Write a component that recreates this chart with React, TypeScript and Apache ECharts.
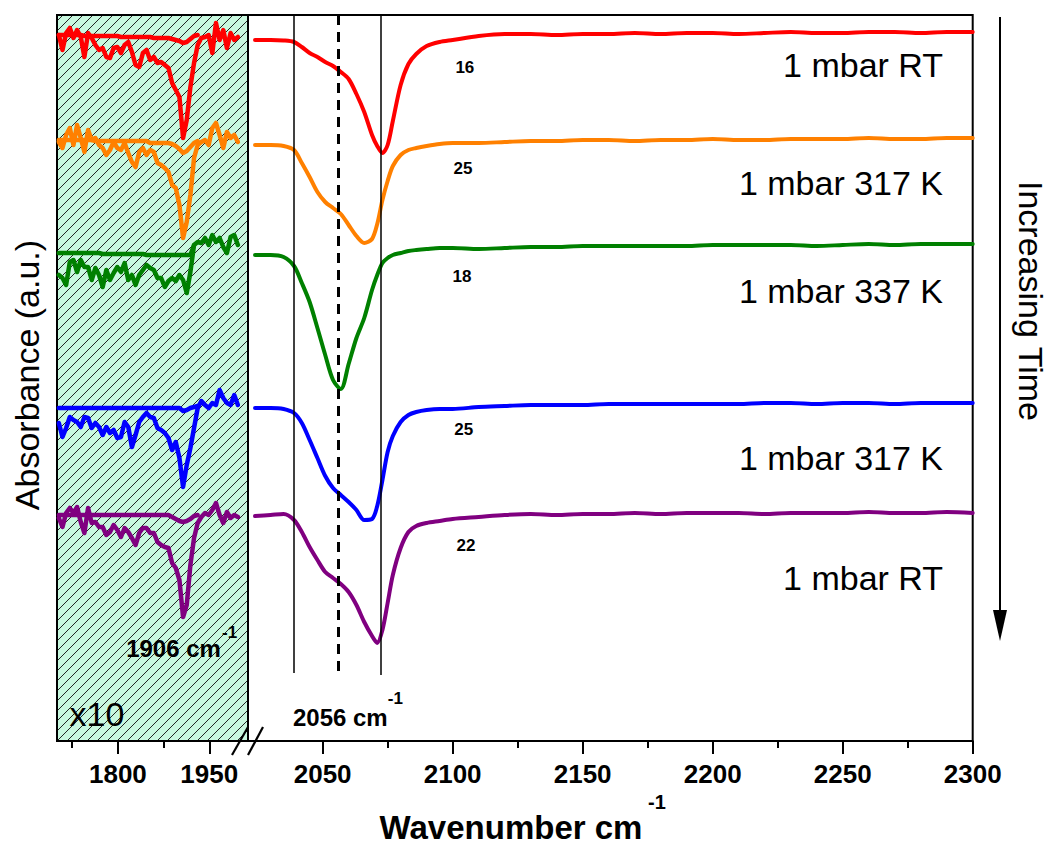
import React, { useEffect, useRef } from 'react';
import * as echarts from 'echarts';

const FONT = '"Liberation Sans", Arial, sans-serif';

// ---- Left (x10) panel: wavenumbers and absorbance (a.u.) ----
const LEFT_WN = [1703,1709,1715,1721,1727,1733,1739,1745,1751,1757,1763,1769,1775,1781,1787,1793,1799,1805,1811,1817,1823,1829,1835,1841,1847,1853,1859,1865,1871,1877,1883,1889,1895,1901,1907,1913,1919,1925,1931,1937,1943,1949,1955,1961,1967,1973,1979,1985,1991,1997];

const RED_X10 = [70.6,69.1,70.8,71.3,70.3,71.1,70.4,68.4,70.8,70.3,69.6,69.1,69.3,68.4,68.3,69.3,69.4,68.8,69.6,69.9,68.9,67.6,67.4,68.8,69.1,68.1,68.4,67.8,67.9,67.6,67.3,65.8,65.1,64.4,60.3,62.1,65.4,67.8,69.6,70.3,70.4,70.6,68.8,71.8,70.1,71.1,69.3,70.8,70.1,70.4];
const RED_REF = [70.6,70.6,70.6,70.6,70.6,70.6,70.6,70.5,70.5,70.5,70.5,70.5,70.5,70.5,70.5,70.5,70.5,70.4,70.4,70.4,70.4,70.4,70.4,70.4,70.4,70.4,70.3,70.3,70.3,70.3,70.3,70.2,70.1,70.0,69.8,69.9,70.2,70.5,70.6,null,null,null,null,null,null,null,null,null,null,null];

const ORANGE_X10 = [59.9,59.3,60.6,61.3,59.6,61.6,60.3,58.9,61.1,60.1,60.3,59.6,59.3,58.6,59.1,59.9,59.3,59.1,59.8,58.8,57.9,57.4,58.9,59.3,58.6,59.1,58.9,57.8,57.6,57.3,56.9,55.6,55.3,53.6,50.3,51.9,54.6,58.3,59.6,59.9,60.1,59.6,61.3,61.8,60.6,59.3,60.9,60.3,60.6,59.9];
const ORANGE_REF = [60.1,60.1,60.1,60.1,60.1,60.1,60.1,60.1,60.1,60.1,60.0,60.0,60.0,60.0,60.0,60.0,60.0,60.0,60.0,60.0,60.0,60.0,60.0,60.0,60.0,59.8,59.8,59.8,59.8,59.8,59.8,59.7,59.5,59.2,58.8,59.0,59.4,59.8,60.0,null,null,null,null,null,null,null,null,null,null,null];

const GREEN_X10 = [46.6,46.3,45.6,47.9,48.1,46.9,48.1,47.4,47.4,46.1,47.3,46.6,45.4,47.1,46.1,46.8,47.4,46.9,47.8,46.1,46.6,45.6,46.6,47.1,47.6,47.3,47.1,46.3,46.3,45.4,46.0,46.3,46.0,46.6,46.1,44.8,46.9,49.6,49.9,49.8,50.3,49.6,50.6,49.9,50.3,49.4,48.8,50.4,50.6,49.6];
const GREEN_REF = [48.8,48.8,48.8,48.8,48.8,48.8,48.8,48.8,48.8,48.8,48.8,48.8,48.7,48.7,48.7,48.7,48.7,48.7,48.7,48.7,48.7,48.7,48.7,48.7,48.6,48.6,48.6,48.6,48.6,48.6,48.6,48.6,48.6,48.6,48.6,48.6,48.6,49.6,null,null,null,null,null,null,null,null,null,null,null,null];

const BLUE_X10 = [31.8,30.4,31.3,32.4,32.1,31.9,31.4,32.4,32.3,31.3,31.8,31.4,30.6,31.4,30.8,31.1,30.3,30.4,31.9,31.4,29.4,30.6,31.9,32.4,32.8,32.4,32.3,31.3,31.1,30.8,30.3,29.1,29.9,28.3,25.4,27.6,29.3,31.3,33.3,34.0,33.6,33.3,33.8,33.6,35.1,34.3,33.8,33.6,34.6,33.6];
const BLUE_REF = [33.3,33.3,33.3,33.3,33.3,33.3,33.3,33.3,33.3,33.3,33.3,33.3,33.3,33.3,33.3,33.3,33.3,33.3,33.3,33.3,33.3,33.3,33.3,33.3,33.3,33.3,33.3,33.3,33.3,33.3,33.3,33.3,33.3,33.3,33.0,33.1,33.3,33.4,33.5,null,null,null,null,null,null,null,null,null,null,null];

const PURPLE_X10 = [22.3,21.4,22.8,23.3,22.8,23.4,21.9,20.8,23.3,21.8,21.9,21.4,21.4,20.6,20.9,21.6,21.1,20.4,21.3,20.9,20.3,19.6,20.8,21.3,21.3,20.8,20.8,19.9,19.6,19.4,19.3,17.8,17.3,16.1,12.4,13.6,17.6,20.3,21.8,22.4,22.8,22.6,23.1,23.8,22.6,21.8,22.9,22.3,22.6,22.4];
const PURPLE_REF = [22.6,22.6,22.6,22.6,22.6,22.6,22.6,22.6,22.6,22.6,22.6,22.6,22.6,22.6,22.6,22.6,22.6,22.6,22.6,22.6,22.6,22.6,22.6,22.6,22.6,22.6,22.6,22.6,22.6,22.6,22.6,22.4,22.2,22.0,21.9,22.0,22.2,22.5,22.6,null,null,null,null,null,null,null,null,null,null,null];

// ---- Right panel ----
const RIGHT_WN = [2024,2030,2035,2039,2042,2045,2048,2051,2054,2057,2060,2063,2066,2069,2071,2073,2075,2077,2080,2083,2086,2090,2095,2100,2110,2120,2130,2140,2150,2160,2170,2180,2190,2200,2210,2220,2230,2240,2250,2260,2270,2280,2290,2300];
const RED_R = [70.1,70.1,70.05,69.9,69.4,68.8,68.4,67.9,67.5,66.9,66.2,64.7,62.9,60.6,59.5,58.8,59.6,62.0,65.6,67.7,68.7,69.5,69.9,70.1,70.5,70.7,70.7,70.6,70.7,70.7,70.8,70.7,70.8,70.8,70.7,70.8,70.9,70.8,70.8,70.9,70.9,70.8,70.9,70.9];
const ORANGE_R = [59.6,59.6,59.5,59.1,57.8,56.4,54.9,53.9,53.3,52.7,51.6,50.5,49.8,50.2,51.7,54.1,56.0,57.5,58.6,59.1,59.3,59.5,59.7,59.8,59.8,59.9,60.0,60.0,60.1,60.1,60.0,60.1,60.1,60.2,60.1,60.1,60.2,60.2,60.2,60.3,60.2,60.2,60.3,60.3];
const GREEN_R = [48.6,48.6,48.4,47.5,45.8,43.9,41.3,38.6,36.1,35.2,37.7,40.3,42.3,45.1,46.6,47.8,48.3,48.6,48.8,49.0,49.1,49.2,49.3,49.3,49.2,49.3,49.4,49.4,49.5,49.5,49.5,49.5,49.5,49.6,49.6,49.6,49.6,49.5,49.6,49.7,49.6,49.7,49.7,49.7];
const BLUE_R = [33.3,33.3,33.2,32.8,31.8,30.1,28.3,26.5,25.3,24.6,23.9,23.1,22.1,22.2,23.5,26.1,28.9,30.5,31.9,32.6,32.9,33.1,33.2,33.2,33.4,33.5,33.6,33.6,33.6,33.7,33.7,33.7,33.7,33.7,33.7,33.8,33.8,33.7,33.8,33.8,33.7,33.8,33.8,33.8];
const PURPLE_R = [22.5,22.6,22.7,22.1,20.9,19.4,18.1,16.9,16.3,15.7,14.9,13.6,11.9,10.5,9.8,11.1,13.8,16.6,19.3,20.9,21.5,21.8,22.0,22.2,22.4,22.6,22.7,22.6,22.7,22.7,22.8,22.7,22.8,22.8,22.8,22.7,22.8,22.8,22.8,22.9,22.8,22.8,22.9,22.8];

const COLORS = ['#ff0000', '#ff8000', '#008000', '#0000ff', '#800080'];
const X10_SERIES = [RED_X10, ORANGE_X10, GREEN_X10, BLUE_X10, PURPLE_X10];
const REF_SERIES = [RED_REF, ORANGE_REF, GREEN_REF, BLUE_REF, PURPLE_REF];
const RIGHT_SERIES = [RED_R, ORANGE_R, GREEN_R, BLUE_R, PURPLE_R];

// axes
const Y_MIN = 0;
const Y_MAX = 72.6;
const LEFT_MIN = 1700;
const LEFT_MAX = 2013.6;
const RIGHT_MIN = 2021.3;
const RIGHT_MAX = 2300;
const LEFT_MAJOR = [1800, 1950];
const LEFT_MINOR = [1725, 1875];
const RIGHT_MAJOR = [2050, 2100, 2150, 2200, 2250, 2300];
const RIGHT_MINOR = [2075, 2125, 2175, 2225, 2275];

// reference lines
const V_LINE_WN = [2039, 2056, 2072.5];
const V_LINE_END = [6.8, 6.4, 6.6];
const V_LINE_DASHED = [false, true, false];

// annotations (data coordinates)
const CURVE_LABELS = ['1 mbar RT', '1 mbar 317 K', '1 mbar 337 K', '1 mbar 317 K', '1 mbar RT'];
const CURVE_LABEL_WN = 2288.6;
const CURVE_LABEL_Y = [67.6, 55.8, 45.0, 28.3, 16.3];
const PEAK_NUMS = ['16', '25', '18', '25', '22'];
const PEAK_NUM_WN = [2104.7, 2104.0, 2103.6, 2104.3, 2105.1];
const PEAK_NUM_Y = [67.4, 57.3, 46.5, 31.2, 19.6];
const PEAK_2056 = { text: '2056 cm', wn: 2056.8, y: 2.4, supWn: 2078, supY: 4.3 };
const PEAK_1906 = { text: '1906 cm', wn: 1891.3, y: 9.3, supWn: 1983.3, supY: 10.9 };
const X10_LABEL = { text: 'x10', wn: 1765.7, y: 2.7 };

const MINT = '#c8f8df';

function tickAxis(grid: number, min: number, max: number, values: number[], len: number, labels: boolean, line: boolean) {
  return {
    type: 'value', gridIndex: grid, position: 'bottom', min, max,
    axisLine: { show: line, onZero: false, lineStyle: { color: '#000', width: 2 } },
    axisTick: { show: true, customValues: values, length: len, inside: false, lineStyle: { color: '#000', width: 2 } },
    axisLabel: labels
      ? { show: true, customValues: values, formatter: (v: number) => String(v), fontFamily: FONT, fontWeight: 'bold', fontSize: 26, color: '#000', margin: 20 }
      : { show: false },
    splitLine: { show: false },
    minorTick: { show: false },
  };
}

export default function App() {
  const ref = useRef<HTMLDivElement>(null);
  useEffect(() => {
    const chart = echarts.init(ref.current!, null, { renderer: 'svg' });

    const series: any[] = [];
    COLORS.forEach((c, k) => {
      series.push({
        type: 'line', xAxisIndex: 0, yAxisIndex: 0, showSymbol: false, symbol: 'none',
        data: LEFT_WN.map((w, i) => [w, REF_SERIES[k][i]]), connectNulls: false,
        lineStyle: { color: c, width: 4.5, join: 'round', cap: 'round' }, z: 3,
      });
      series.push({
        type: 'line', xAxisIndex: 0, yAxisIndex: 0, showSymbol: false, symbol: 'none',
        data: LEFT_WN.map((w, i) => [w, X10_SERIES[k][i]]),
        lineStyle: { color: c, width: 4.5, join: 'round', cap: 'round' }, z: 3,
      });
    });
    COLORS.forEach((c, k) => {
      const s: any = {
        type: 'line', xAxisIndex: 2, yAxisIndex: 1, showSymbol: false, symbol: 'none', smooth: 0.3,
        data: RIGHT_WN.map((w, i) => [w, RIGHT_SERIES[k][i]]),
        lineStyle: { color: c, width: 4, join: 'round', cap: 'round' }, z: 3,
      };
      if (k === 0) {
        s.markLine = {
          silent: true, symbol: ['none', 'none'], label: { show: false }, animation: false, z: 5,
          data: V_LINE_WN.map((w, i) => [
            { coord: [w, Y_MAX], lineStyle: V_LINE_DASHED[i] ? { color: '#000', width: 3, type: [10, 7] } : { color: '#000', width: 1.5, type: 'solid' } },
            { coord: [w, V_LINE_END[i]] },
          ]),
        };
      }
      series.push(s);
    });

    chart.setOption({
      animation: false,
      backgroundColor: '#fff',
      grid: [
        { left: 57, top: 15, width: 191, height: 726, show: true, backgroundColor: MINT, borderColor: '#000', borderWidth: 2, containLabel: false },
        { left: 248, top: 15, width: 724.7, height: 726, show: true, backgroundColor: 'transparent', borderColor: '#000', borderWidth: 2, containLabel: false },
      ],
      xAxis: [
        tickAxis(0, LEFT_MIN, LEFT_MAX, LEFT_MAJOR, 13, true, true),
        tickAxis(0, LEFT_MIN, LEFT_MAX, LEFT_MINOR, 7, false, false),
        tickAxis(1, RIGHT_MIN, RIGHT_MAX, RIGHT_MAJOR, 13, true, true),
        tickAxis(1, RIGHT_MIN, RIGHT_MAX, RIGHT_MINOR, 7, false, false),
      ],
      yAxis: [
        { type: 'value', gridIndex: 0, min: Y_MIN, max: Y_MAX, show: false, splitLine: { show: false } },
        { type: 'value', gridIndex: 1, min: Y_MIN, max: Y_MAX, show: false, splitLine: { show: false } },
      ],
      series,
    });

    const PL = (x: number, y: number) => chart.convertToPixel({ xAxisIndex: 0, yAxisIndex: 0 }, [x, y]) as number[];
    const PR = (x: number, y: number) => chart.convertToPixel({ xAxisIndex: 2, yAxisIndex: 1 }, [x, y]) as number[];

    const els: any[] = [];
    // hatch in left panel
    const tl = PL(LEFT_MIN, Y_MAX);
    const br = PL(LEFT_MAX, Y_MIN);
    const x0 = tl[0] + 1, y0 = tl[1] + 1, x1 = br[0] - 1, y1 = br[1] - 1;
    for (let k = x0 + y0 + 4; k < x1 + y1; k += 10) {
      const sx = Math.max(x0, k - y1);
      const ex = Math.min(x1, k - y0);
      if (sx >= ex) continue;
      els.push({ type: 'line', z: 1, silent: true, shape: { x1: sx, y1: k - sx, x2: ex, y2: k - ex }, style: { stroke: '#222', lineWidth: 1 } });
    }

    const txt = (x: number, y: number, text: string, size: number, bold: boolean, align = 'center', extra: any = {}) => ({
      type: 'text', x, y, z: 10, silent: true, ...extra,
      style: { text, fontFamily: FONT, fontSize: size, fontWeight: bold ? 'bold' : 'normal', fill: '#000', align, verticalAlign: 'middle' },
    });

    CURVE_LABELS.forEach((t, i) => {
      const p = PR(CURVE_LABEL_WN, CURVE_LABEL_Y[i]);
      els.push(txt(p[0], p[1], t, 34, false, 'right'));
    });
    PEAK_NUMS.forEach((t, i) => {
      const p = PR(PEAK_NUM_WN[i], PEAK_NUM_Y[i]);
      els.push(txt(p[0], p[1], t, 17, true));
    });
    {
      const p = PR(PEAK_2056.wn, PEAK_2056.y);
      els.push(txt(p[0], p[1], PEAK_2056.text, 24, true));
      const q = PR(PEAK_2056.supWn, PEAK_2056.supY);
      els.push(txt(q[0], q[1], '-1', 17, true));
    }
    {
      const p = PL(PEAK_1906.wn, PEAK_1906.y);
      els.push(txt(p[0], p[1], PEAK_1906.text, 24, true));
      const q = PL(PEAK_1906.supWn, PEAK_1906.supY);
      els.push(txt(q[0], q[1], '-1', 17, true));
    }
    {
      const p = PL(X10_LABEL.wn, X10_LABEL.y);
      els.push(txt(p[0], p[1], X10_LABEL.text, 34, false));
    }

    // axis titles
    els.push(txt(511, 827, 'Wavenumber cm', 33, true));
    els.push(txt(657, 802, '-1', 20, true));
    els.push(txt(27, 375, 'Absorbance (a.u.)', 34, false, 'center', { rotation: Math.PI / 2 }));
    els.push(txt(1031, 301, 'Increasing Time', 34, false, 'center', { rotation: -Math.PI / 2 }));

    // time arrow
    els.push({ type: 'line', z: 10, silent: true, shape: { x1: 1000, y1: 17, x2: 1000, y2: 614 }, style: { stroke: '#000', lineWidth: 2 } });
    els.push({ type: 'polygon', z: 10, silent: true, shape: { points: [[993, 610], [1007, 610], [1000, 641]] }, style: { fill: '#000' } });

    // axis break marks
    els.push({ type: 'line', z: 10, silent: true, shape: { x1: 232, y1: 755, x2: 248, y2: 727 }, style: { stroke: '#000', lineWidth: 2.2 } });
    els.push({ type: 'line', z: 10, silent: true, shape: { x1: 248, y1: 755, x2: 263, y2: 727 }, style: { stroke: '#000', lineWidth: 2.2 } });

    chart.setOption({ graphic: { elements: els } });

    return () => chart.dispose();
  }, []);
  return <div ref={ref} style={{ position: 'absolute', left: 0, top: 0, width: 1051, height: 852 }} />;
}
